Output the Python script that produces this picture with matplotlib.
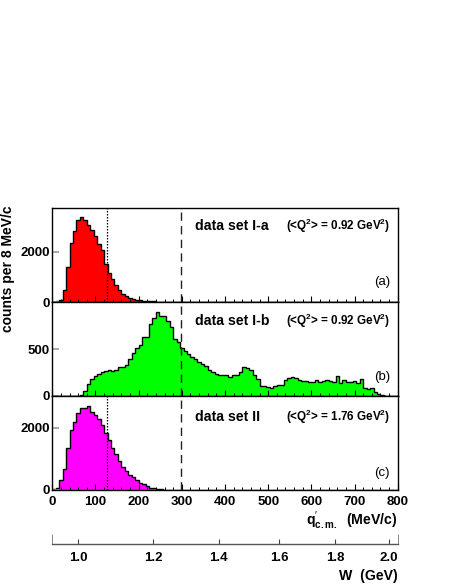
import numpy as np
import matplotlib
matplotlib.use("Agg")
import matplotlib.pyplot as plt

plt.rcParams['font.family'] = ['Liberation Sans', 'DejaVu Sans']
plt.rcParams['mathtext.fontset'] = 'custom'
plt.rcParams['mathtext.rm'] = 'Liberation Sans'
plt.rcParams['mathtext.bf'] = 'Liberation Sans:bold'
plt.rcParams['mathtext.it'] = 'Liberation Sans:italic'

# ---------------- data ----------------
bin_width = 8  # MeV/c
n_bins = 100
edges = np.arange(n_bins + 1) * bin_width

counts_a = [10, 30, 93, 464, 1380, 2350, 2840, 3280, 3370, 3250,
            3080, 2880, 2610, 2300, 2080, 1510, 1140, 930, 660, 490,
            320, 225, 160, 130, 95, 66, 50, 40, 30, 20,
            15, 10, 8, 5, 3]
counts_b = [0, 0, 0, 0, 0, 0, 0, 5, 12, 57,
            125, 178, 209, 234, 255, 266, 272, 262, 276, 305,
            310, 335, 390, 460, 514, 546, 624, 628, 762, 830,
            897, 850, 848, 800, 735, 608, 570, 507, 479, 450,
            411, 390, 362, 337, 316, 280, 255, 238, 220, 227,
            220, 206, 220, 227, 255, 308, 298, 273, 220, 177,
            106, 103, 92, 85, 103, 113, 120, 170, 195, 200,
            190, 175, 160, 155, 150, 150, 165, 145, 155, 175,
            160, 150, 210, 142, 165, 150, 150, 160, 135, 180,
            85, 70, 80, 45, 20, 10, 5]
counts_c = [20, 75, 320, 690, 1340, 1930, 2200, 2470, 2635, 2650,
            2705, 2500, 2410, 2270, 2080, 1840, 1600, 1360, 1170, 930,
            740, 610, 480, 418, 321, 236, 182, 128, 75, 54,
            32, 20, 12, 8, 4]

def pad(c):
    return np.array(c + [0] * (n_bins - len(c)), dtype=float)

panels = [
    dict(counts=pad(counts_a), color='#ff0000', ymax=3740, yticks=[0, 2000],
         title='data set I-a', q2='0.92', tag='(a)', dotted=True),
    dict(counts=pad(counts_b), color='#00ff00', ymax=1000, yticks=[0, 500],
         title='data set I-b', q2='0.92', tag='(b)', dotted=False),
    dict(counts=pad(counts_c), color='#ff00ff', ymax=3020, yticks=[0, 2000],
         title='data set II', q2='1.76', tag='(c)', dotted=True),
]

pion_threshold_q = 126   # MeV/c (dotted line)
dashed_q = 297           # MeV/c (dashed line)
x_major = list(range(0, 801, 100))
w_ticks = [1.0, 1.2, 1.4, 1.6, 1.8, 2.0]
mp = 0.93827  # GeV

# ---------------- figure ----------------
W_px, H_px = 452, 585
fig = plt.figure(figsize=(W_px / 100, H_px / 100), dpi=100)

left = 52.3 / W_px
width = (397.7 - 52.3) / W_px
tops = [208, 302, 396]
h = 94

axes = []
for i, p in enumerate(panels):
    bottom = 1 - (tops[i] + h) / H_px
    ax = fig.add_axes([left, bottom, width, h / H_px])
    axes.append(ax)
    ax.stairs(p['counts'], edges, fill=True, color=p['color'], linewidth=0)
    ax.stairs(p['counts'], edges, color='black', linewidth=1.0)
    ax.set_xlim(0, 800)
    ax.set_ylim(0, p['ymax'])
    if p['dotted']:
        ax.axvline(pion_threshold_q, color='black', lw=0.9, ls=(0, (1.2, 1.2)))
    ax.axvline(dashed_q, color='#222222', lw=1.0, ls=(0, (6, 3.8)))

    ax.set_xticks(x_major)
    ax.set_xticks(np.arange(0, 801, 20), minor=True)
    ax.tick_params(axis='x', which='major', direction='in', length=4.5, width=0.8,
                   top=False, labelsize=9.5, pad=4.5)
    ax.tick_params(axis='x', which='minor', direction='in', length=2.3, width=0.7, top=False)
    ax.set_yticks(p['yticks'])
    ax.tick_params(axis='y', which='major', direction='in', length=4.7, width=1.2,
                   color='#999999', right=False, labelsize=9.5, pad=2)
    ax.minorticks_on()
    ax.yaxis.set_tick_params(which='minor', left=False, right=False)
    ax.set_xticks(np.arange(0, 801, 20), minor=True)
    for lab in ax.get_yticklabels():
        lab.set_fontweight('bold')
    if i < 2:
        ax.set_xticklabels([])
    else:
        ax.set_xticklabels([str(v) for v in x_major], fontweight='bold')
    for s in ax.spines.values():
        s.set_linewidth(1.0)

    ty = [0.81, 0.80, 0.78][i]
    tgy = [0.216, 0.205, 0.184][i]
    ax.text(0.413, ty, p['title'], transform=ax.transAxes, fontsize=10.2,
            fontweight='bold', va='center', ha='left')
    ax.text(0.677, ty, r'(<Q$^{\mathbf{2}}$> = ' + p['q2'] + r' GeV$^{\mathbf{2}}$)',
            transform=ax.transAxes, fontsize=8.4, fontweight='bold', va='center', ha='left')
    ax.text(0.977, tgy, p['tag'], transform=ax.transAxes, fontsize=9.5,
            va='center', ha='right')

# ---------------- W axis ----------------
def q2W(q):
    q = np.asarray(q, dtype=float) / 1000.0
    return q + np.sqrt(q ** 2 + mp ** 2)

def W2q(W):
    W = np.maximum(np.asarray(W, dtype=float), 1e-6)
    return (W ** 2 - mp ** 2) / (2 * W) * 1000.0

axc = axes[2]
sec = axc.secondary_xaxis(-54 / 94, functions=(q2W, W2q))
sec.set_xticks(w_ticks)
sec.set_xticklabels([f'{w:.1f}' for w in w_ticks], fontweight='bold')
sec.set_xticks([float(q2W(0)), float(q2W(800))], minor=True)
sec.tick_params(axis='x', which='major', direction='in', length=3.8, width=0.8,
                color='#444444', labelsize=9.5, pad=5.5)
sec.tick_params(axis='x', which='minor', direction='in', length=7, width=0.7,
                color='#888888')
sec.spines['bottom'].set_color('#555555')
sec.spines['bottom'].set_linewidth(1.0)

# ---------------- labels ----------------
fig.text(0.018, 1 - 269 / H_px, 'counts per 8 MeV/c', rotation=90, fontsize=10,
         fontweight='bold', va='center', ha='center')
fig.text(397.7 / W_px, 1 - 525 / H_px,
         r"$\mathbf{q}^{\prime}_{\mathbf{c.m.}}$  (MeV/c)",
         fontsize=10.2, fontweight='bold', ha='right', va='baseline')
fig.text(397.7 / W_px, 1 - 580 / H_px, 'W  (GeV)', fontsize=10.2,
         fontweight='bold', ha='right', va='baseline')

fig.savefig('out.png', dpi=100)
